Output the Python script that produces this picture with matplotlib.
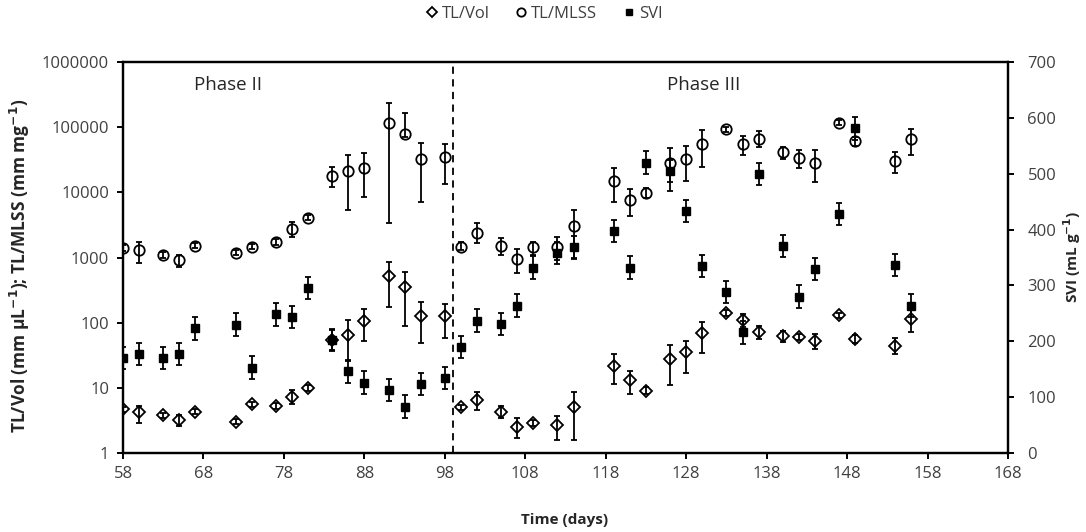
import matplotlib
matplotlib.use("Agg")
import matplotlib.pyplot as plt
from matplotlib.lines import Line2D
import numpy as np

plt.rcParams['font.family'] = ['Open Sans', 'DejaVu Sans']

days = [58, 60, 63, 65, 67, 72, 74, 77, 79, 81, 84, 86, 88, 91, 93, 95, 98,
        100, 102, 105, 107, 109, 112, 114, 119, 121, 123, 126, 128, 130, 133,
        135, 137, 140, 142, 144, 147, 149, 154, 156]

# TL/Vol (mm uL-1): value, lower end, upper end of error bar
tl_vol = [4.7, 4.2, 3.8, 3.2, 4.3, 3.0, 5.6, 5.3, 7.3, 10, 54, 65, 106, 520, 356, 128, 126,
          5.0, 6.5, 4.3, 2.5, 2.9, 2.7, 5.1, 22, 13, 9.0, 28, 35, 69, 139,
          110, 73, 62, 61, 52, 131, 56, 44, 114]
tl_vol_lo = [4.3, 2.9, 3.5, 2.6, 4.0, 2.8, 5.1, 4.8, 5.7, 9, 38, 26, 52, 172, 89, 48, 58,
             4.5, 4.6, 3.4, 1.7, 2.6, 1.6, 1.6, 11.5, 8.0, 8.0, 11, 17, 34, 125,
             85, 57, 50, 55, 40, 120, 48, 33, 72]
tl_vol_hi = [5.1, 5.3, 4.1, 3.8, 4.7, 3.3, 6.1, 5.8, 9.3, 11, 77, 110, 160, 860, 600, 210, 195,
             5.5, 8.7, 5.2, 3.4, 3.2, 3.7, 8.5, 33, 18, 10.2, 45, 52, 103, 155,
             135, 90, 75, 67, 66, 142, 64, 58, 170]

# TL/MLSS (mm mg-1)
tl_mlss = [1390, 1300, 1100, 920, 1520, 1190, 1470, 1740, 2750, 4100, 18000, 21000, 24000,
           117000, 78000, 32000, 34500, 1470, 2400, 1500, 950, 1430, 1430, 3000, 14700,
           7500, 9800, 28500, 33000, 56000, 93000, 56000, 66000, 41000, 34000, 28500,
           117000, 61000, 30500, 66000]
tl_mlss_lo = [1250, 830, 1000, 720, 1400, 1080, 1350, 1550, 2040, 3700, 12000, 5400, 8500,
              3400, 71000, 7000, 13500, 1300, 1650, 1100, 570, 1100, 910, 1000, 7100,
              4400, 8300, 10300, 15000, 24500, 85000, 38000, 49000, 33000, 24000, 14500,
              108000, 51000, 20000, 38000]
tl_mlss_hi = [1550, 1750, 1220, 1090, 1650, 1300, 1600, 1950, 3550, 4500, 24500, 37000, 40000,
              237000, 166000, 57000, 55000, 1700, 3400, 1960, 1330, 1700, 2040, 5300, 23500,
              11200, 11500, 48000, 52000, 89000, 100000, 72000, 87000, 50000, 45000, 45000,
              127000, 70000, 42000, 95000]

# SVI (mL g-1)
svi = [170, 177, 170, 177, 223, 230, 153, 248, 244, 295, 202, 146, 126, 113, 83, 123, 134,
       190, 237, 231, 264, 332, 358, 368, 397, 332, 520, 505, 433, 335, 288,
       216, 500, 371, 280, 329, 428, 581, 337, 264]
svi_err = [20] * len(svi)

x_ticks = list(range(58, 169, 10))
left_ticks = [1, 10, 100, 1000, 10000, 100000, 1000000]
right_ticks = list(range(0, 701, 100))
phase_switch_day = 99

W, H = 1086, 532
fig = plt.figure(figsize=(W/100, H/100), dpi=100)
ax = fig.add_axes([123/W, 1-453/H, (1008-123)/W, (453-62)/H])
ax2 = ax.twinx()

tc = '#404040'
lc = '#262626'
lw_err = 1.3
cap = 2.3

v = np.array(tl_vol)
ax.errorbar(days, v, yerr=[v-np.array(tl_vol_lo), np.array(tl_vol_hi)-v], fmt='D',
            ms=6.2, mfc='none', mec='black', mew=1.3, ecolor='black', elinewidth=lw_err,
            capsize=cap, capthick=lw_err, zorder=3)
m = np.array(tl_mlss)
ax.errorbar(days, m, yerr=[m-np.array(tl_mlss_lo), np.array(tl_mlss_hi)-m], fmt='o',
            ms=7.5, mfc='none', mec='black', mew=1.3, ecolor='black', elinewidth=lw_err,
            capsize=cap, capthick=lw_err, zorder=3)
ax2.errorbar(days, svi, yerr=svi_err, fmt='s', ms=5.5, mfc='black', mec='black',
             ecolor='black', elinewidth=lw_err, capsize=cap, capthick=lw_err, zorder=3)

ax.set_yscale('log')
ax.set_ylim(1, 1000000)
ax.set_xlim(58, 168)
ax2.set_ylim(0, 700)
ax.set_xticks(x_ticks)
ax.set_xticklabels([str(t) for t in x_ticks])
ax.set_yticks(left_ticks)
ax.set_yticklabels([str(t) for t in left_ticks])
ax.yaxis.set_minor_locator(matplotlib.ticker.NullLocator())
ax2.set_yticks(right_ticks)
ax2.set_yticklabels([str(t) for t in right_ticks])

ax.axvline(phase_switch_day, color='black', ls=(0, (4, 3)), lw=1.3, zorder=1)

for a in (ax, ax2):
    for s in a.spines.values():
        s.set_linewidth(1.6)
        s.set_color('black')
    a.tick_params(axis='both', direction='out', length=4, width=1.4, labelsize=12,
                  labelcolor=tc, color='black')
ax.tick_params(axis='y', pad=6)
ax2.tick_params(axis='y', pad=10)
ax.tick_params(axis='x', pad=5)

ax.text(66.8, 0.94, 'Phase II', transform=ax.get_xaxis_transform(), fontsize=13.5,
        color=lc, ha='left', va='center')
ax.text(125.6, 0.94, 'Phase III', transform=ax.get_xaxis_transform(), fontsize=13.5,
        color=lc, ha='left', va='center')

fig.text(565/W, 1-520/H, 'Time (days)', fontsize=11, fontweight='bold', color=lc,
         ha='center', va='center')
fig.text(20/W, 1-266/H, 'TL/Vol (mm µL$^{\\mathbf{-1}}$); TL/MLSS (mm mg$^{\\mathbf{-1}}$)',
         fontsize=12.5, fontweight='bold', color=lc, rotation=90, ha='center', va='center')
fig.text(1072/W, 1-257/H, 'SVI (mL g$^{\\mathbf{-1}}$)', fontsize=11, fontweight='bold',
         color=lc, rotation=90, ha='center', va='center')

handles = [Line2D([], [], marker='D', ls='none', ms=5.5, mfc='none', mec='black', mew=1.3),
           Line2D([], [], marker='o', ls='none', ms=6, mfc='none', mec='black', mew=1.3),
           Line2D([], [], marker='s', ls='none', ms=5, mfc='black', mec='black')]
fig.legend(handles, ['TL/Vol', 'TL/MLSS', 'SVI'], loc='center', bbox_to_anchor=(0.5, 1 - 14/H),
           ncol=3, frameon=False, fontsize=12, handletextpad=0.1, columnspacing=1.4,
           handlelength=1.0, labelcolor=tc)

fig.savefig('out.png', dpi=100)
